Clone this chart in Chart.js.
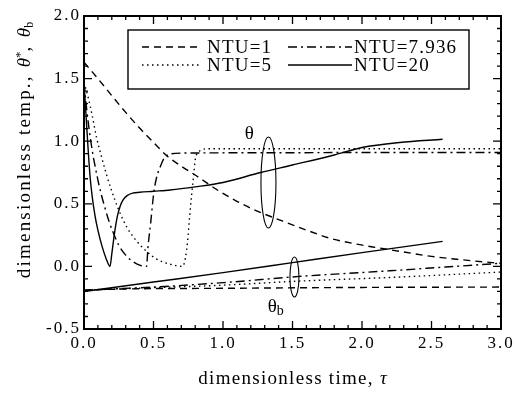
<!DOCTYPE html>
<html><head><meta charset="utf-8">
<script src="https://cdn.jsdelivr.net/npm/chart.js@4/dist/chart.umd.min.js"></script>
<style>html,body{margin:0;padding:0;background:#fff;}#wrap{width:517px;height:394px;}</style>
</head><body><div id="wrap"><canvas id="c" width="517" height="394"></canvas></div>
<script>
// ---------- data ----------
const seriesLabels = ['NTU=1', 'NTU=5', 'NTU=7.936', 'NTU=20'];
const xTicks = [0.0, 0.5, 1.0, 1.5, 2.0, 2.5, 3.0];
const yTicks = [-0.5, 0.0, 0.5, 1.0, 1.5, 2.0];

// theta (upper family)
const tauTheta1  = [0, 0.1, 0.21, 0.3, 0.4, 0.5, 0.6, 0.7, 0.8, 0.96, 1.1, 1.25, 1.41, 1.6, 1.77, 1.95, 2.13, 2.3, 2.5, 2.7, 2.94, 3.0];
const theta1     = [1.63, 1.5, 1.35, 1.23, 1.105, 0.99, 0.88, 0.8, 0.73, 0.61, 0.52, 0.44, 0.37, 0.29, 0.225, 0.18, 0.146, 0.115, 0.08, 0.055, 0.03, 0.025];

const tauTheta5  = [0, 0.03, 0.06, 0.09, 0.12, 0.16, 0.2, 0.25, 0.31, 0.38, 0.45, 0.52, 0.57, 0.64, 0.71, 0.73, 0.745, 0.76, 0.775, 0.79, 0.8, 0.83, 0.9, 1.5, 2.0, 2.5, 3.0];
const theta5     = [1.47, 1.35, 1.2, 1.03, 0.9, 0.74, 0.6, 0.45, 0.31, 0.2, 0.12, 0.06, 0.035, 0.012, 0.0, 0.07, 0.2, 0.4, 0.58, 0.74, 0.85, 0.92, 0.94, 0.94, 0.94, 0.94, 0.94];

const tauTheta79 = [0, 0.02, 0.04, 0.06, 0.08, 0.11, 0.15, 0.18, 0.21, 0.25, 0.3, 0.35, 0.4, 0.45, 0.46, 0.48, 0.5, 0.52, 0.55, 0.58, 0.63, 0.7, 1.5, 2.0, 2.5, 3.0];
const theta79    = [1.47, 1.25, 1.07, 0.92, 0.8, 0.64, 0.47, 0.36, 0.27, 0.17, 0.09, 0.04, 0.01, 0.0, 0.15, 0.35, 0.57, 0.7, 0.8, 0.87, 0.9, 0.905, 0.908, 0.91, 0.91, 0.91];

const tauTheta20 = [0, 0.015, 0.03, 0.045, 0.06, 0.08, 0.1, 0.13, 0.16, 0.187, 0.2, 0.22, 0.24, 0.26, 0.28, 0.31, 0.35, 0.4, 0.5, 0.62, 0.8, 1.0, 1.27, 1.5, 1.8, 2.0, 2.27, 2.58];
const theta20    = [1.47, 1.2, 0.93, 0.7, 0.55, 0.4, 0.29, 0.16, 0.06, 0.0, 0.1, 0.27, 0.4, 0.48, 0.53, 0.565, 0.585, 0.592, 0.6, 0.61, 0.635, 0.67, 0.75, 0.81, 0.89, 0.95, 0.99, 1.015];

// theta_b (lower family)
const tauBulk1  = [0, 0.3, 1.0, 2.0, 3.0];
const bulk1     = [-0.19, -0.18, -0.175, -0.168, -0.165];
const tauBulk5  = [0, 0.5, 1.0, 1.5, 2.27, 3.0];
const bulk5     = [-0.19, -0.17, -0.15, -0.12, -0.085, -0.045];
const tauBulk79 = [0, 0.5, 1.0, 1.55, 2.2, 2.6, 3.0];
const bulk79    = [-0.19, -0.165, -0.13, -0.08, -0.035, -0.005, 0.025];
const tauBulk20 = [0, 0.5, 1.0, 1.5, 2.0, 2.58];
const bulk20    = [-0.2, -0.125, -0.05, 0.03, 0.11, 0.2];

// annotation anchors (data coordinates)
const thetaLabelAt   = {x: 1.19, y: 1.07};
const thetaEllipseAt = {x: 1.327, y: 0.67};
const bulkLabelAt    = {x: 1.38, y: -0.31};
const bulkEllipseAt  = {x: 1.514, y: -0.085};

// ---------- styles ----------
const dashStyles = [[7, 5], [1.5, 3.5], [9, 4, 2, 4], []];
const SERIF = '"Liberation Serif", "Times New Roman", serif';

function pts(xs, ys) { return xs.map((x, i) => ({x: x, y: ys[i]})); }
function ds(label, xs, ys, k) {
  return {label: label, data: pts(xs, ys), borderColor: '#000', borderWidth: 1.4,
    borderDash: dashStyles[k], pointRadius: 0, fill: false, tension: 0,
    cubicInterpolationMode: 'monotone'};
}
const datasets = [
  ds(seriesLabels[0], tauTheta1, theta1, 0),
  ds(seriesLabels[1], tauTheta5, theta5, 1),
  ds(seriesLabels[2], tauTheta79, theta79, 2),
  ds(seriesLabels[3], tauTheta20, theta20, 3),
  ds(seriesLabels[0] + ' b', tauBulk1, bulk1, 0),
  ds(seriesLabels[1] + ' b', tauBulk5, bulk5, 1),
  ds(seriesLabels[2] + ' b', tauBulk79, bulk79, 2),
  ds(seriesLabels[3] + ' b', tauBulk20, bulk20, 3)
];

function drawRich(ctx, parts, x, y, align) {
  ctx.save();
  ctx.textBaseline = 'alphabetic';
  ctx.textAlign = 'left';
  let total = 0;
  parts.forEach(p => { ctx.font = p.font; ctx.letterSpacing = p.ls || '0px'; total += ctx.measureText(p.t).width; });
  let cx = align === 'center' ? x - total / 2 : (align === 'right' ? x - total : x);
  parts.forEach(p => {
    ctx.font = p.font; ctx.letterSpacing = p.ls || '0px';
    ctx.fillText(p.t, cx, y + (p.dy || 0));
    cx += ctx.measureText(p.t).width;
  });
  ctx.restore();
}

const framePlugin = {
  id: 'frame',
  beforeDraw(chart) {
    chart.ctx.letterSpacing = '2px';
  },
  afterDatasetsDraw(chart) {
    const ctx = chart.ctx, a = chart.chartArea;
    const xs = chart.scales.x, ys = chart.scales.y;
    ctx.save();
    ctx.strokeStyle = '#000';
    ctx.lineWidth = 2;
    ctx.setLineDash([]);
    ctx.strokeRect(a.left, a.top, a.right - a.left, a.bottom - a.top);
    ctx.lineWidth = 1.3;
    ctx.beginPath();
    for (let i = 0; i < xTicks.length; i++) {
      const px = xs.getPixelForValue(xTicks[i]);
      ctx.moveTo(px, a.bottom); ctx.lineTo(px, a.bottom - 8);
      ctx.moveTo(px, a.top); ctx.lineTo(px, a.top + 8);
      if (i < xTicks.length - 1) {
        for (let j = 1; j < 5; j++) {
          const v = xTicks[i] + (xTicks[i + 1] - xTicks[i]) * j / 5;
          const q = xs.getPixelForValue(v);
          ctx.moveTo(q, a.bottom); ctx.lineTo(q, a.bottom - 4);
          ctx.moveTo(q, a.top); ctx.lineTo(q, a.top + 4);
        }
      }
    }
    for (let i = 0; i < yTicks.length; i++) {
      const py = ys.getPixelForValue(yTicks[i]);
      ctx.moveTo(a.left, py); ctx.lineTo(a.left + 8, py);
      ctx.moveTo(a.right, py); ctx.lineTo(a.right - 8, py);
      if (i < yTicks.length - 1) {
        for (let j = 1; j < 5; j++) {
          const v = yTicks[i] + (yTicks[i + 1] - yTicks[i]) * j / 5;
          const q = ys.getPixelForValue(v);
          ctx.moveTo(a.left, q); ctx.lineTo(a.left + 4, q);
          ctx.moveTo(a.right, q); ctx.lineTo(a.right - 4, q);
        }
      }
    }
    ctx.stroke();

    // legend box
    const lx = a.left + 44, ly = a.top + 14, lw = 341, lh = 59;
    ctx.fillStyle = '#fff';
    ctx.fillRect(lx, ly, lw, lh);
    ctx.lineWidth = 1.4;
    ctx.strokeRect(lx, ly, lw, lh);
    const cols = [{sx: lx + 14, ex: lx + 72, tx: lx + 79}, {sx: lx + 160, ex: lx + 224, tx: lx + 226}];
    const rows = [ly + 23, ly + 41];
    const order = [[0, 0, 0], [1, 0, 1], [2, 1, 0], [3, 1, 1]]; // dataset, col, row
    ctx.fillStyle = '#000';
    order.forEach(o => {
      const d = chart.data.datasets[o[0]], c = cols[o[1]], r = rows[o[2]];
      ctx.beginPath();
      ctx.lineWidth = 1.3;
      ctx.setLineDash(d.borderDash);
      ctx.moveTo(c.sx, r - 6); ctx.lineTo(c.ex, r - 6);
      ctx.stroke();
      ctx.setLineDash([]);
      drawRich(ctx, [{t: d.label, font: '19px ' + SERIF, ls: '1.2px'}], c.tx, r, 'left');
    });

    // ellipses and family labels
    ctx.lineWidth = 1.1;
    ctx.setLineDash([]);
    const e1x = xs.getPixelForValue(thetaEllipseAt.x), e1y = ys.getPixelForValue(thetaEllipseAt.y);
    ctx.beginPath(); ctx.ellipse(e1x, e1y, 7.5, 45.5, 0, 0, Math.PI * 2); ctx.stroke();
    const e2x = xs.getPixelForValue(bulkEllipseAt.x), e2y = ys.getPixelForValue(bulkEllipseAt.y);
    ctx.beginPath(); ctx.ellipse(e2x, e2y, 4.5, 20, 0, 0, Math.PI * 2); ctx.stroke();
    drawRich(ctx, [{t: 'θ', font: '19px ' + SERIF}], xs.getPixelForValue(thetaLabelAt.x), ys.getPixelForValue(thetaLabelAt.y) + 7, 'center');
    drawRich(ctx, [{t: 'θ', font: '19px ' + SERIF}, {t: 'b', font: '14px ' + SERIF, dy: 3}],
      xs.getPixelForValue(bulkLabelAt.x), ys.getPixelForValue(bulkLabelAt.y) + 7, 'center');

    // axis titles
    drawRich(ctx, [{t: 'dimensionless time, ', font: '19px ' + SERIF, ls: '1.3px'}, {t: 'τ', font: 'italic 19px ' + SERIF}],
      (a.left + a.right) / 2, 384, 'center');
    ctx.save();
    ctx.translate(30, 150);
    ctx.rotate(-Math.PI / 2);
    drawRich(ctx, [
      {t: 'dimensionless temp., ', font: '19px ' + SERIF, ls: '2.2px'},
      {t: 'θ', font: 'italic 19px ' + SERIF},
      {t: '*', font: '13px ' + SERIF, dy: -6},
      {t: ',  ', font: '19px ' + SERIF},
      {t: 'θ', font: 'italic 19px ' + SERIF},
      {t: 'b', font: '12px ' + SERIF, dy: 3}
    ], 0, 0, 'center');
    ctx.restore();
    ctx.restore();
  }
};

new Chart(document.getElementById('c'), {
  type: 'line',
  data: {datasets: datasets},
  options: {
    responsive: false, animation: false, devicePixelRatio: 1,
    layout: {padding: {left: 0, right: 16, top: 16, bottom: 0}},
    plugins: {legend: {display: false}, tooltip: {enabled: false}, title: {display: false}},
    scales: {
      x: {
        type: 'linear', min: 0, max: 3,
        afterBuildTicks: s => { s.ticks = xTicks.map(v => ({value: v})); },
        afterFit: s => { s.height = 65; },
        grid: {display: false}, border: {display: false},
        ticks: {color: '#000', font: {family: SERIF, size: 17}, padding: -4, maxRotation: 0,
          callback: v => Number(v).toFixed(1)}
      },
      y: {
        type: 'linear', min: -0.5, max: 2.0,
        afterBuildTicks: s => { s.ticks = yTicks.map(v => ({value: v})); },
        afterFit: s => { s.width = 84; },
        grid: {display: false}, border: {display: false},
        ticks: {color: '#000', font: {family: SERIF, size: 17}, padding: -5,
          callback: v => Number(v).toFixed(1)}
      }
    }
  },
  plugins: [framePlugin]
});
</script></body></html>
